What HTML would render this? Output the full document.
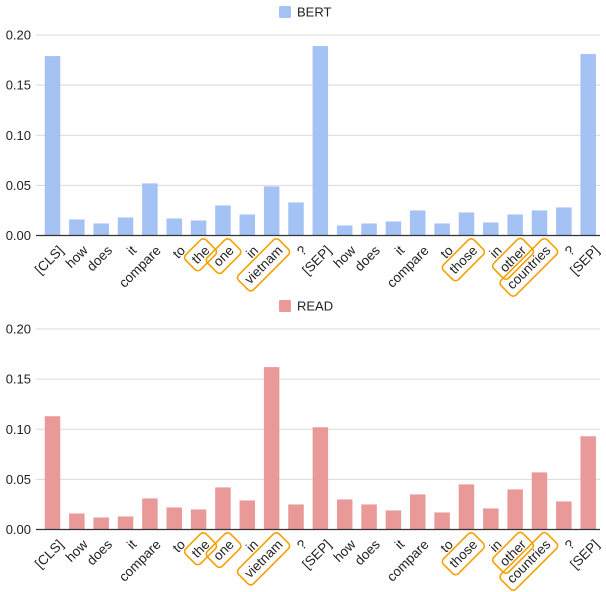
<!DOCTYPE html>
<html><head><meta charset="utf-8"><style>
html,body{margin:0;padding:0;background:#fff;}
svg{display:block;font-family:"Liberation Sans",Arial,sans-serif;}
</style></head><body>
<svg id="c" width="606" height="592"></svg>
<script>
const categories=["[CLS]","how","does","it","compare","to","the","one","in","vietnam","?","[SEP]","how","does","it","compare","to","those","in","other","countries","?","[SEP]"];
const highlighted=[6,7,9,17,19,20];
const bertValues=[0.179,0.016,0.012,0.018,0.052,0.017,0.015,0.030,0.021,0.049,0.033,0.189,0.010,0.012,0.014,0.025,0.012,0.023,0.013,0.021,0.025,0.028,0.181];
const readValues=[0.113,0.016,0.012,0.013,0.031,0.022,0.020,0.042,0.029,0.162,0.025,0.102,0.030,0.025,0.019,0.035,0.017,0.045,0.021,0.040,0.057,0.028,0.093];
const yTicks=[0,0.05,0.10,0.15,0.20];
const yTickLabels=["0.00","0.05","0.10","0.15","0.20"];
const NS="http://www.w3.org/2000/svg";
const svg=document.getElementById('c');
function mk(tag,attrs,parent){const e=document.createElementNS(NS,tag);for(const k in attrs)e.setAttribute(k,attrs[k]);(parent||svg).appendChild(e);return e;}
function chart(prefix,name,values,color,legendY,top,bottom){
  const g=mk('g',{});
  
  
  const x0=36,x1=600;
  const y=v=>bottom-(v/0.2)*(bottom-top);
  const xc=i=>52.5+i*24.35;
  const lg=mk('g',{},g);
  
  
  mk('rect',{x:279,y:legendY-6,width:12,height:12,rx:1.5,fill:color},lg);
  const lt=mk('text',{x:297,y:legendY+4.5,'font-size':13,fill:'#222'},lg);lt.textContent=name;
  yTicks.forEach((t,i)=>{
    if(t>0){const l=mk('line',{x1:x0,x2:x1,y1:y(t),y2:y(t),stroke:'#d9d9d9','stroke-width':1},g);
      }
    const tx=mk('text',{x:31,y:y(t)+4.5,'font-size':13,fill:'#222','text-anchor':'end'},g);
    tx.textContent=yTickLabels[i];
    
  });
  values.forEach((v,i)=>{
    const r=mk('rect',{x:xc(i)-7.75,y:y(v),width:15.5,height:bottom-y(v),fill:color},g);
    
    
  });
  const ax=mk('line',{x1:x0,x2:x1,y1:bottom,y2:bottom,stroke:'#333','stroke-width':1.2},g);
  
  categories.forEach((c,i)=>{
    const lg2=mk('g',{transform:`translate(${xc(i)+5},${bottom+9}) rotate(-45)`},g);
    const t=mk('text',{x:0,y:0,'font-size':13.5,fill:'#222','text-anchor':'end','dominant-baseline':'hanging'},lg2);
    t.textContent=c;
    
    if(highlighted.includes(i)){
      const b=t.getBBox();
      const r=mk('rect',{x:b.x-5,y:b.y-3,width:b.width+10,height:b.height+6,rx:4,fill:'none',stroke:'#f5a000','stroke-width':1.6},lg2);
      
    }
  });
}
chart('bert','BERT',bertValues,'#a4c2f4',12,35,235.5);
chart('read','READ',readValues,'#ea9999',306,329,529.5);
</script>
</body></html>
